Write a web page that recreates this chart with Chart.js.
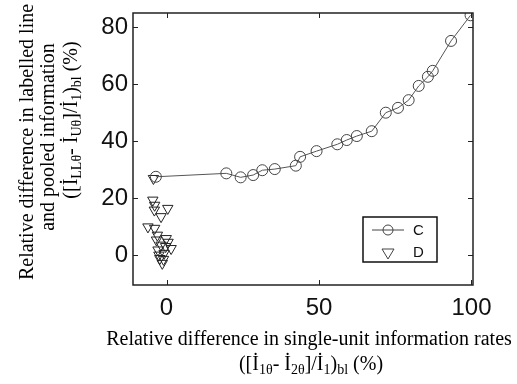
<!DOCTYPE html>
<html>
<head>
<meta charset="utf-8">
<script src="https://cdn.jsdelivr.net/npm/chart.js@4.4.1/dist/chart.umd.min.js"></script>
<style>
  html, body { margin: 0; padding: 0; background: #fff; }
  #wrap { width: 517px; height: 384px; }
</style>
</head>
<body>
<div id="wrap"><canvas id="chart" width="517" height="384"></canvas></div>
<script>
// series C: line with open circles
const cX = [-3.5, 19.6, 24.3, 28.4, 31.4, 35.5, 42.4, 43.8, 49.2, 56.0, 59.1, 62.4, 67.3, 71.9, 75.9, 79.4, 82.7, 85.7, 87.3, 93.3, 99.7];
const cY = [27.5, 28.7, 27.3, 28.1, 29.8, 30.2, 31.4, 34.5, 36.5, 38.9, 40.4, 41.8, 43.5, 50.0, 51.7, 54.4, 59.4, 62.6, 64.7, 75.2, 84.2];
// series D: open down-triangles near x = 0
const dX = [-4.3, -4.5, -3.9, 0.4, -4.0, -1.8, -6.1, -3.9, -0.1, -3.3, -1.8, 1.5, -2.8, -0.8, -2.2, -1.4, -3.0, 0.5, -2.5, -1.0, -0.3];
const dY = [26.9, 19.3, 17.5, 16.4, 15.8, 13.5, 9.9, 9.4, 5.8, 5.3, 3.5, 2.3, 1.8, 0.6, -1.2, -2.9, 7.0, 4.5, 0.0, -1.5, 3.0];

const xTicks = [0, 50, 100];
const yTicks = [0, 20, 40, 60, 80];

const seriesNames = ['C', 'D'];

const serif = '"Liberation Serif", "Times New Roman", serif';
const sans = '"Liberation Sans", Arial, sans-serif';

function pts(xs, ys) {
    return xs.map((x, i) => ({x: x, y: ys[i]}));
}

// draw a line of text with subscripts, centred on (x, y)
function richText(ctx, parts, x, y, size) {
    const subSize = Math.round(size * 0.68);
    let total = 0;
    parts.forEach(p => {
        ctx.font = (p.sub ? subSize : size) + 'px ' + serif;
        total += ctx.measureText(p.t).width;
    });
    let cx = x - total / 2;
    ctx.textAlign = 'left';
    ctx.textBaseline = 'alphabetic';
    parts.forEach(p => {
        ctx.font = (p.sub ? subSize : size) + 'px ' + serif;
        ctx.fillText(p.t, cx, y + (p.sub ? size * 0.22 : 0));
        cx += ctx.measureText(p.t).width;
    });
}

const framePlugin = {
    id: 'frame',
    afterDraw(chart) {
        const ctx = chart.ctx;
        const a = chart.chartArea;
        const xs = chart.scales.x, ys = chart.scales.y;
        ctx.save();
        ctx.strokeStyle = '#222';
        ctx.lineWidth = 1.5;
        ctx.strokeRect(a.left, a.top, a.right - a.left, a.bottom - a.top);
        ctx.lineWidth = 1;
        ctx.beginPath();
        xTicks.forEach(v => {
            const px = Math.round(xs.getPixelForValue(v)) + 0.5;
            ctx.moveTo(px, a.bottom); ctx.lineTo(px, a.bottom - 5);
            ctx.moveTo(px, a.top); ctx.lineTo(px, a.top + 5);
        });
        yTicks.forEach(v => {
            const py = Math.round(ys.getPixelForValue(v)) + 0.5;
            ctx.moveTo(a.left, py); ctx.lineTo(a.left + 5, py);
            ctx.moveTo(a.right, py); ctx.lineTo(a.right - 5, py);
        });
        ctx.stroke();

        // legend box
        const lx = 363, ly = 217, lw = 74, lh = 45;
        ctx.fillStyle = '#fff';
        ctx.fillRect(lx, ly, lw, lh);
        ctx.strokeStyle = '#111';
        ctx.lineWidth = 1.5;
        ctx.strokeRect(lx, ly, lw, lh);
        ctx.strokeStyle = '#444';
        ctx.lineWidth = 1;
        ctx.beginPath();
        ctx.moveTo(372, 230); ctx.lineTo(404, 230);
        ctx.stroke();
        ctx.beginPath();
        ctx.arc(388, 230, 5, 0, Math.PI * 2);
        ctx.stroke();
        ctx.beginPath();
        ctx.moveTo(382, 249); ctx.lineTo(394, 249); ctx.lineTo(388, 259); ctx.closePath();
        ctx.stroke();
        ctx.fillStyle = '#111';
        ctx.font = '15px ' + sans;
        ctx.textAlign = 'left';
        ctx.textBaseline = 'middle';
        ctx.fillText(seriesNames[0], 413, 231);
        ctx.fillText(seriesNames[1], 413, 253);

        // axis titles
        ctx.fillStyle = '#000';
        ctx.font = '20px ' + serif;
        ctx.textAlign = 'center';
        ctx.textBaseline = 'alphabetic';
        ctx.fillText('Relative difference in single-unit information rates', 309, 345);
        richText(ctx, [
            {t: '([İ'}, {t: '1θ', sub: true}, {t: '- İ'}, {t: '2θ', sub: true},
            {t: ']/İ'}, {t: '1', sub: true}, {t: ')'}, {t: 'bl', sub: true}, {t: ' (%)'}
        ], 311, 370, 20);

        ctx.save();
        ctx.rotate(-Math.PI / 2);
        ctx.font = '20px ' + serif;
        ctx.textAlign = 'center';
        ctx.fillText('Relative difference in labelled line', -142, 33);
        ctx.fillText('and pooled information', -137, 54);
        richText(ctx, [
            {t: '([İ'}, {t: 'LLθ', sub: true}, {t: '- İ'}, {t: 'Uθ', sub: true},
            {t: ']/İ'}, {t: '1', sub: true}, {t: ')'}, {t: 'bl', sub: true}, {t: ' (%)'}
        ], -120, 77, 20);
        ctx.restore();
        ctx.restore();
    }
};

new Chart(document.getElementById('chart').getContext('2d'), {
    type: 'scatter',
    data: {
        datasets: [{
            label: seriesNames[0],
            data: pts(cX, cY),
            showLine: true,
            borderColor: '#555',
            borderWidth: 1,
            pointStyle: 'circle',
            pointRadius: 5.5,
            pointBorderWidth: 1,
            pointBorderColor: '#444',
            pointBackgroundColor: 'rgba(0,0,0,0)'
        }, {
            label: seriesNames[1],
            data: pts(dX, dY),
            showLine: false,
            pointStyle: 'triangle',
            rotation: 180,
            pointRadius: 6,
            pointBorderWidth: 1,
            pointBorderColor: '#222',
            pointBackgroundColor: 'rgba(0,0,0,0)'
        }]
    },
    options: {
        responsive: false,
        animation: false,
        layout: {padding: {top: 13, right: 44, left: 0, bottom: 0}},
        plugins: {legend: {display: false}, tooltip: {enabled: false}},
        scales: {
            x: {
                type: 'linear', min: -11, max: 100.5,
                afterBuildTicks: s => { s.ticks = xTicks.map(v => ({value: v})); },
                afterFit: s => { s.height = 99; },
                grid: {display: false},
                border: {display: false},
                ticks: {font: {family: sans, size: 24}, color: '#111', padding: 1}
            },
            y: {
                type: 'linear', min: -10.5, max: 85,
                afterBuildTicks: s => { s.ticks = yTicks.map(v => ({value: v})); },
                afterFit: s => { s.width = 133; },
                grid: {display: false},
                border: {display: false},
                ticks: {font: {family: sans, size: 24}, color: '#111', padding: -3}
            }
        }
    },
    plugins: [framePlugin]
});
</script>
</body>
</html>
